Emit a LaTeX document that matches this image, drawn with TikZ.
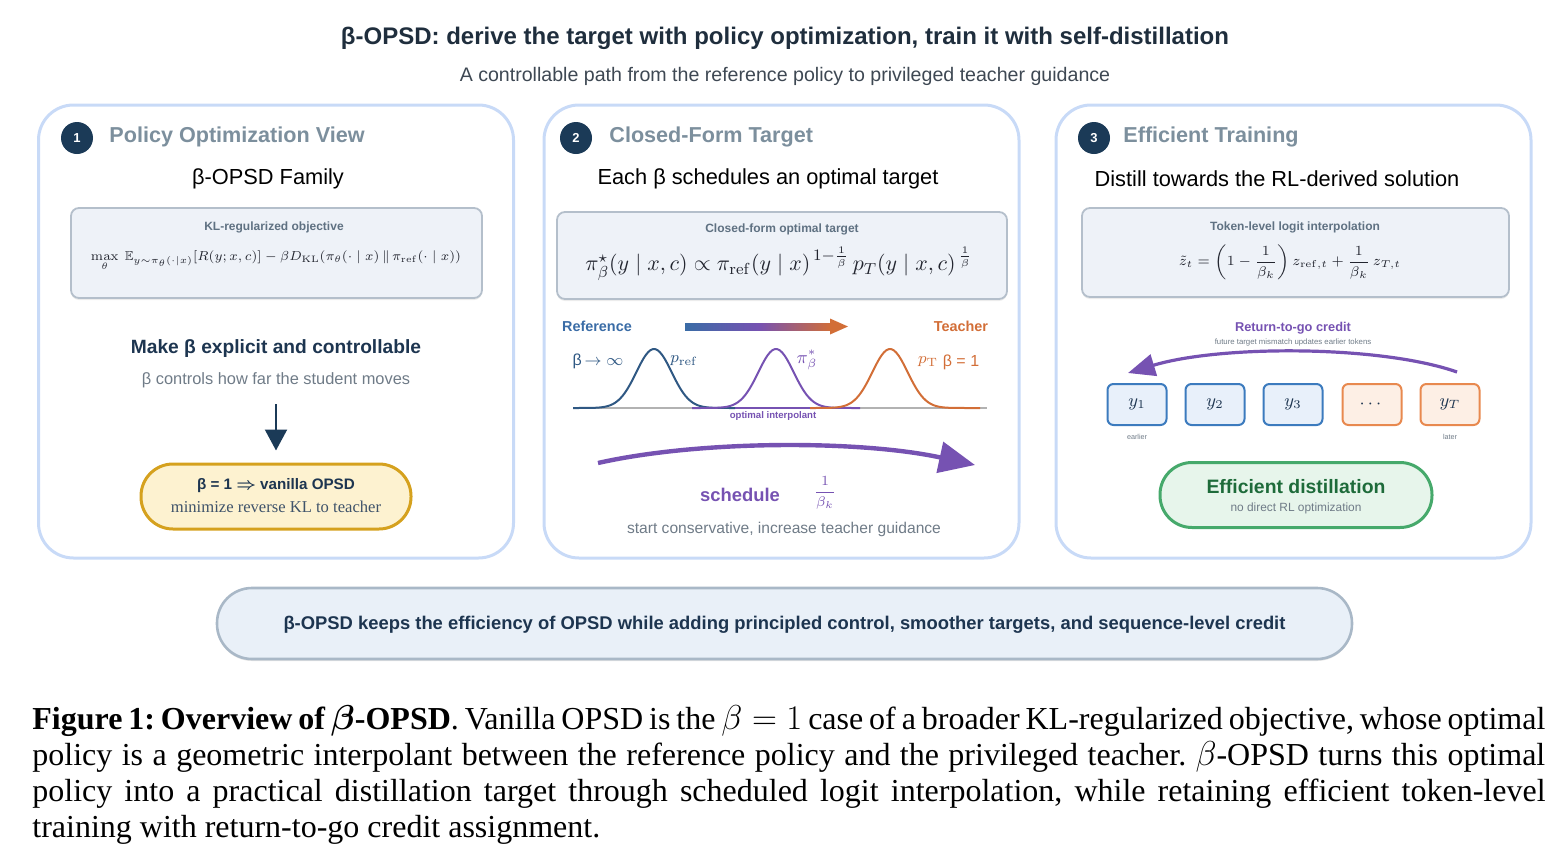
\documentclass[tikz,border=0pt]{standalone}
\usepackage[no-math]{fontspec}
\usepackage{amsmath,amssymb,graphicx}
\setmainfont{Liberation Sans}
\newfontfamily\capfont{Liberation Serif}
\usetikzlibrary{shapes.geometric,arrows.meta,positioning,calc,shadows}

\definecolor{titlenavy}{HTML}{1F2E3D}
\definecolor{subgray}{HTML}{3E4853}
\definecolor{panelline}{HTML}{C8DAF7}
\definecolor{navy}{HTML}{1B3A57}
\definecolor{headgray}{HTML}{7C8F9D}
\definecolor{boxfill}{HTML}{EEF2F8}
\definecolor{boxline}{HTML}{B4BFCB}
\definecolor{labelgray}{HTML}{5F7182}
\definecolor{darknavy}{HTML}{1D3550}
\definecolor{notegray}{HTML}{6F7B87}
\definecolor{pillfill}{HTML}{FDF2D0}
\definecolor{pillline}{HTML}{D5A11E}
\definecolor{refblue}{HTML}{3A6CA6}
\definecolor{curveblue}{HTML}{2F5883}
\definecolor{ipurple}{HTML}{7652B2}
\definecolor{tchorange}{HTML}{D26E37}
\definecolor{tokfill}{HTML}{E8F0FA}
\definecolor{tokline}{HTML}{3C7BBE}
\definecolor{orfill}{HTML}{FDEFE5}
\definecolor{orline}{HTML}{E8894F}
\definecolor{greenfill}{HTML}{E7F5EB}
\definecolor{greenline}{HTML}{46A96B}
\definecolor{greentext}{HTML}{1E6B3A}
\definecolor{barfill}{HTML}{E9F0F8}
\definecolor{barline}{HTML}{A9B8C7}
\definecolor{mathink}{HTML}{22252F}

\tikzstyle{panel} = [rectangle, rounded corners = 17.5pt, minimum width = 237.5pt, minimum height = 226.5pt, draw = panelline, line width = 1.5pt]
\tikzstyle{numdot} = [circle, fill = navy, text = white, minimum size = 16pt, inner sep = 0pt, font = \fontsize{6.5}{7}\selectfont\bfseries]
\tikzstyle{heading} = [anchor = west, inner sep = 0pt, text = headgray, font = \fontsize{10.8}{13}\selectfont\bfseries]
\tikzstyle{subhead} = [inner sep = 0pt, font = \fontsize{10.9}{13}\selectfont]
\tikzstyle{formbox} = [rectangle, rounded corners = 4pt, draw = boxline, fill = boxfill, line width = 0.9pt, drop shadow = {shadow xshift = 0pt, shadow yshift = -1pt, opacity = 0.15}]
\tikzstyle{formlabel} = [inner sep = 0pt, text = labelgray, font = \fontsize{6}{7}\selectfont\bfseries]
\tikzstyle{formula} = [inner sep = 0pt, text = mathink]
\tikzstyle{boldnote} = [inner sep = 0pt, text = darknavy, font = \fontsize{9.6}{11}\selectfont\bfseries]
\tikzstyle{graynote} = [inner sep = 0pt, text = notegray, font = \fontsize{8.2}{10}\selectfont]
\tikzstyle{pill} = [rectangle, rounded corners = 16pt, minimum width = 135pt, minimum height = 32.5pt, line width = 1.5pt]
\tikzstyle{token} = [rectangle, rounded corners = 3pt, minimum width = 29.5pt, minimum height = 20.5pt, line width = 1pt, text = darknavy, font = \fontsize{9}{10}\selectfont]
\tikzstyle{bluetoken} = [token, draw = tokline, fill = tokfill]
\tikzstyle{orangetoken} = [token, draw = orline, fill = orfill]
\tikzstyle{tiny} = [inner sep = 0pt, text = notegray, font = \fontsize{3.6}{4}\selectfont]
\tikzstyle{downarrow} = [draw = navy, line width = 1.1pt, -{Triangle[length = 10.5pt, width = 11pt]}]
\tikzstyle{schedarrow} = [draw = ipurple, line width = 2.2pt, -{Triangle[length = 18pt, width = 15.5pt]}]
\tikzstyle{rtgarrow} = [draw = ipurple, line width = 1.6pt, -{Triangle[length = 13.5pt, width = 11pt]}]

\begin{document}
\begin{tikzpicture}[x = 0.5pt, y = -0.5pt]
    \useasboundingbox (0,0) rectangle (1560,857);

    \node (title) [inner sep = 0pt, text = titlenavy, font = \fontsize{12}{14}\selectfont\bfseries] at (785,38) {β-OPSD: derive the target with policy optimization, train it with self-distillation};
    \node (subtitle) [inner sep = 0pt, text = subgray, font = \fontsize{9.8}{11}\selectfont] at (785,76) {A controllable path from the reference policy to privileged teacher guidance};

    \node (panel-1) [panel] at (276,331.5) {};
    \node (panel-2) [panel] at (781.5,331.5) {};
    \node (panel-3) [panel] at (1293.5,331.5) {};

    % panel 1
    \node (num-1) [numdot] at (77,138) {1};
    \node (head-1) [heading] at (109,137) {Policy Optimization View};
    \node (family) [subhead] at (268,179) {β-OPSD Family};
    \node (kl-box) [formbox, minimum width = 205.5pt, minimum height = 45pt] at (276.5,253) {};
    \node (kl-label) [formlabel] at (274,227) {KL-regularized objective};
    \node (kl-formula) [formula, font = \fontsize{7}{8}\selectfont] at (276,261) {\scalebox{0.935}{$\max\limits_{\theta}\ \mathbb{E}_{y\sim\pi_\theta(\cdot|x)}[R(y;x,c)] - \beta D_{\mathrm{KL}}(\pi_\theta(\cdot\mid x)\,\|\,\pi_{\mathrm{ref}}(\cdot\mid x))$}};
    \node (make) [boldnote] at (276,349) {Make β explicit and controllable};
    \node (note-1) [graynote] at (276,380) {β controls how far the student moves};
    \node (pill-1) [pill, draw = pillline, fill = pillfill] at (276,496.5) {};
    \node (pill-1-main) [inner sep = 0pt, text = darknavy, font = \fontsize{7.6}{9}\selectfont\bfseries] at (276,486) {β = 1 $\boldsymbol{\Rightarrow}$ vanilla OPSD};
    \node (pill-1-sub) [inner sep = 0pt, text = darknavy!85, font = \capfont\fontsize{8.3}{9}\selectfont] at (276,507) {minimize reverse KL to teacher};
    \draw [downarrow, shorten <= 8pt, shorten >= 6pt] (note-1) -- (pill-1);

    % panel 2
    \node (num-2) [numdot] at (576,138) {2};
    \node (head-2) [heading] at (609,137) {Closed-Form Target};
    \node (each) [subhead] at (768,179) {Each β schedules an optimal target};
    \node (cf-box) [formbox, minimum width = 225pt, minimum height = 43.5pt] at (782,255.5) {};
    \node (cf-label) [formlabel] at (782,229) {Closed-form optimal target};
    \node (cf-formula) [formula, font = \fontsize{10.9}{12}\selectfont] at (779,264) {$\pi^\star_\beta(y\mid x,c) \propto \pi_{\mathrm{ref}}(y\mid x)^{\,1-\frac{1}{\beta}}\, p_T(y\mid x,c)^{\,\frac{1}{\beta}}$};
    \node (ref-label) [inner sep = 0pt, text = refblue, font = \fontsize{7.2}{8}\selectfont\bfseries] at (597,326) {Reference};
    \node (tch-label) [inner sep = 0pt, text = tchorange, font = \fontsize{7.2}{8}\selectfont\bfseries] at (961,326) {Teacher};
    \shade [left color = refblue, right color = tchorange, middle color = ipurple] (685,323) rectangle (832,330);
    \fill [tchorange] (830,318.5) -- (848,326.5) -- (830,334.5) -- cycle;
    \draw [gray!60, line width = 0.6pt] (573,408) -- (987,408);
    \draw [ipurple, line width = 1.4pt] (692,408) -- (860,408);
    \draw [curveblue, line width = 1pt] plot [domain = -81:81, samples = 70, smooth] ({\x+654}, {408-59*exp(-(\x/25)^2)});
    \draw [ipurple, line width = 1pt] plot [domain = -84:84, samples = 70, smooth] ({\x+776}, {408-59*exp(-(\x/25)^2)});
    \draw [tchorange, line width = 1pt] plot [domain = -80:90, samples = 70, smooth] ({\x+890}, {408-59*exp(-(\x/25)^2)});
    \node (beta-inf) [inner sep = 0pt, text = curveblue, font = \fontsize{8}{9}\selectfont] at (598,361) {β$\,\to\infty$};
    \node (p-ref) [inner sep = 0pt, text = curveblue, font = \fontsize{8.5}{9}\selectfont] at (684,361) {$p_{\mathrm{ref}}$};
    \node (pi-star) [inner sep = 0pt, text = ipurple, font = \fontsize{9}{9}\selectfont] at (807,360) {$\pi^*_\beta$};
    \node (p-t) [inner sep = 0pt, text = tchorange, font = \fontsize{8.5}{9}\selectfont] at (928,362) {$p_{\mathrm{T}}$};
    \node (beta-one) [inner sep = 0pt, text = tchorange, font = \fontsize{8}{9}\selectfont] at (961,362) {β = 1};
    \node (interp) [inner sep = 0pt, text = ipurple, font = \fontsize{4.8}{5}\selectfont\bfseries] at (773,416) {optimal interpolant};
    \coordinate (sched-start) at (598,463);
    \coordinate (sched-end) at (975,465);
    \draw [schedarrow] (sched-start) .. controls (700,440) and (860,440) .. (sched-end);
    \node (schedule) [inner sep = 0pt, text = ipurple, font = \fontsize{9.2}{10}\selectfont\bfseries] at (740,495) {schedule};
    \node (sched-frac) [inner sep = 0pt, text = ipurple, font = \fontsize{7.5}{8}\selectfont] at (825,493) {$\dfrac{1}{\beta_k}$};
    \node (note-2) [graynote, font = \fontsize{7.8}{10}\selectfont] at (784,529) {start conservative, increase teacher guidance};

    % panel 3
    \node (num-3) [numdot] at (1094,138) {3};
    \node (head-3) [heading] at (1123,137) {Efficient Training};
    \node (distill) [subhead] at (1277,179) {Distill towards the RL-derived solution};
    \node (tl-box) [formbox, minimum width = 213.5pt, minimum height = 44.5pt] at (1295.5,252.5) {};
    \node (tl-label) [formlabel] at (1295,227) {Token-level logit interpolation};
    \node (tl-formula) [formula, font = \fontsize{7.3}{9}\selectfont] at (1290,262) {$\tilde z_t = \left(1-\dfrac{1}{\beta_k}\right) z_{\mathrm{ref},t} + \dfrac{1}{\beta_k}\, z_{T,t}$};
    \node (rtg-title) [inner sep = 0pt, text = ipurple, font = \fontsize{6.4}{7}\selectfont\bfseries] at (1293,328) {Return-to-go credit};
    \node (rtg-note) [tiny, font = \fontsize{3.9}{4}\selectfont] at (1293,342) {future target mismatch updates earlier tokens};
    \node (tok-1) [bluetoken] at (1137,404.5) {$y_1$};
    \node (tok-2) [bluetoken] at (1215,404.5) {$y_2$};
    \node (tok-3) [bluetoken] at (1293,404.5) {$y_3$};
    \node (tok-4) [orangetoken] at (1372,404.5) {$\cdots$};
    \node (tok-5) [orangetoken] at (1450,404.5) {$y_T$};
    \node (earlier) [tiny] at (1137,437) {earlier};
    \node (later) [tiny] at (1450,437) {later};
    \coordinate (rtg-start) at (1457,372);
    \coordinate (rtg-end) at (1128,373);
    \draw [rtgarrow] (rtg-start) .. controls (1380,345) and (1220,345) .. (rtg-end);
    \node (pill-3) [pill, draw = greenline, fill = greenfill, minimum width = 136pt] at (1296,495) {};
    \node (pill-3-main) [inner sep = 0pt, text = greentext, font = \fontsize{9.7}{10}\selectfont\bfseries] at (1296,487) {Efficient distillation};
    \node (pill-3-sub) [inner sep = 0pt, text = notegray, font = \fontsize{5.95}{7}\selectfont] at (1296,508) {no direct RL optimization};

    % summary bar
    \node (summary) [rectangle, rounded corners = 17.5pt, minimum width = 567.5pt, minimum height = 35.5pt, draw = barline, fill = barfill, line width = 1.3pt, drop shadow = {shadow xshift = 0pt, shadow yshift = -1pt, opacity = 0.2}] at (784.5,623.5) {};
    \node (summary-text) [inner sep = 0pt, text = darknavy, font = \fontsize{9.2}{10}\selectfont\bfseries] at (784.5,625) {β-OPSD keeps the efficiency of OPSD while adding principled control, smoother targets, and sequence-level credit};

    % caption
    \node (caption) [anchor = north west, inner sep = 0pt, text width = 756.5pt, align = justify, font = \capfont\fontsize{16}{18}\selectfont\frenchspacing] at (32,705) {\textbf{Figure 1: Overview of $\boldsymbol{\beta}$-OPSD}. Vanilla OPSD is the $\beta = 1$ case of a broader KL-regularized objective, whose optimal\linebreak policy is a geometric interpolant between the reference policy and the privileged teacher. $\beta$-OPSD turns this optimal\linebreak policy into a practical distillation target through scheduled logit interpolation, while retaining efficient token-level\linebreak training with return-to-go credit assignment.};
\end{tikzpicture}
\end{document}
